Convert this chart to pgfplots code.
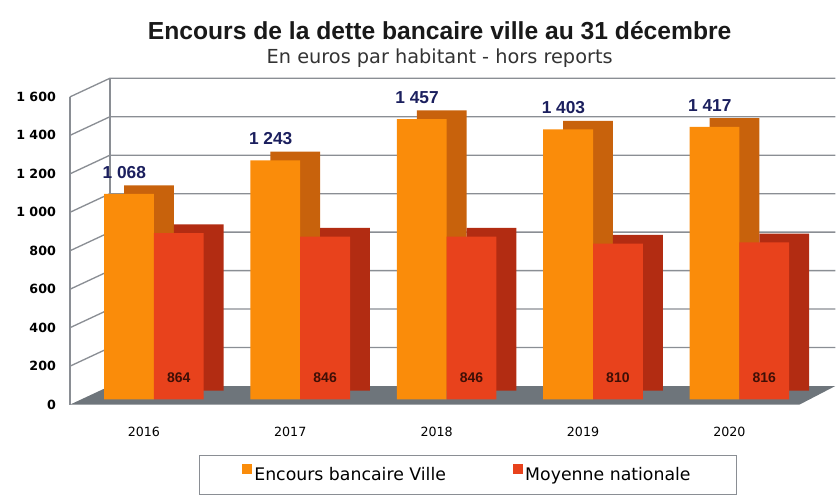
\documentclass[border=0pt]{standalone}
\usepackage{pgfplots}
\pgfplotsset{compat=1.18}
\usepackage{fontspec}
\setmainfont{DejaVu Sans}
\newfontfamily\lib{Liberation Sans}
\definecolor{orF}{HTML}{FA8C0A}
\definecolor{orS}{HTML}{C8620C}
\definecolor{rdF}{HTML}{E8421C}
\definecolor{rdS}{HTML}{B22C12}
\definecolor{navy}{HTML}{1B1F5E}
\definecolor{floor}{HTML}{6E757B}
\definecolor{gridc}{HTML}{8A8E94}
\begin{document}
\begin{tikzpicture}
\begin{axis}[
  width=547.5pt, height=231pt, scale only axis,
  xmin=-0.505, xmax=4.478, ymin=0, ymax=1600,
  clip=false,
  axis line style={draw=none},
  major tick style={draw=none},
  xtick={0,1,2,3,4},
  xticklabels={2016,2017,2018,2019,2020},
  xticklabel style={font=\fontsize{9.5}{10}\selectfont, yshift=-9pt},
  ytick={0,200,400,600,800,1000,1200,1400,1600},
  yticklabels={0,200,400,600,800,1 000,1 200,1 400,1 600},
  yticklabel style={font=\fontsize{9.5}{10}\selectfont\bfseries, xshift=-7pt},
  ybar, bar width=0.34,
  legend style={at={(0.545,0)}, yshift=-37.5pt, anchor=north, draw=gridc,
    legend columns=2, font=\fontsize{13}{14}\selectfont,
    inner xsep=32pt, inner ysep=7pt,
    /tikz/every even column/.append style={column sep=48pt}},
  legend image code/.code={\fill[#1] (0pt,-3.8pt) rectangle (7.5pt,3.8pt);},
]
% floor and walls
\fill[floor] (axis cs:-0.505,0) -- (axis cs:4.478,0) -- ([xshift=27pt,yshift=14pt]axis cs:4.478,0) -- ([xshift=30pt,yshift=14pt]axis cs:-0.505,0) -- cycle;
\pgfplotsinvokeforeach{200,400,600,800,1000,1200,1400,1600}{
  \draw[gridc, line width=1pt] (axis cs:-0.505,#1) -- ([xshift=30pt,yshift=14pt]axis cs:-0.505,#1) -- ([xshift=27pt,yshift=14pt]axis cs:4.478,#1);
}
\draw[gridc, line width=1pt] (axis cs:-0.505,0) -- (axis cs:-0.505,1600);
\draw[gridc, line width=1pt] ([xshift=30pt,yshift=14pt]axis cs:-0.505,0) -- ([xshift=30pt,yshift=14pt]axis cs:-0.505,1600);

% orange series
\addplot[fill=orS, draw=none, bar shift=-0.17, xshift=22.5pt, yshift=10.5pt, forget plot]
  coordinates {(0,1068) (1,1243) (2,1457) (3,1403) (4,1417)};
\addplot[fill=orF, draw=none, bar shift=-0.17, xshift=7.5pt, yshift=4pt]
  coordinates {(0,1068) (1,1243) (2,1457) (3,1403) (4,1417)};
\addlegendentry{Encours bancaire Ville}
% red series
\addplot[fill=rdS, draw=none, bar shift=0.17, xshift=22.5pt, yshift=10.5pt, forget plot]
  coordinates {(0,864) (1,846) (2,846) (3,810) (4,816)};
\addplot[fill=rdF, draw=none, bar shift=0.17, xshift=7.5pt, yshift=4pt]
  coordinates {(0,864) (1,846) (2,846) (3,810) (4,816)};
\addlegendentry{Moyenne nationale}

% value labels
\foreach \x/\v/\t in {0/1068/1 068,1/1243/1 243,2/1457/1 457,3/1403/1 403,4/1417/1 417}{
  \edef\tmp{\noexpand\node[anchor=south, text=navy, font=\noexpand\lib\noexpand\fontsize{13}{14}\noexpand\selectfont\noexpand\bfseries, yshift=12pt, xshift=4pt] at (axis cs:\x-0.17,\v) {\t};}
  \tmp
}
\foreach \x/\t in {0/864,1/846,2/846,3/810,4/816}{
  \edef\tmp{\noexpand\node[text=black!65!rdS, font=\noexpand\lib\noexpand\fontsize{10.5}{11}\noexpand\selectfont\noexpand\bfseries, xshift=7.5pt] at (axis cs:\x+0.17,140) {\t};}
  \tmp
}
% titles
\node[font=\lib\fontsize{18.5}{20}\selectfont\bfseries, text=black!90] at ([xshift=277.5pt,yshift=281pt]axis cs:-0.505,0) {Encours de la dette bancaire ville au 31 décembre};
\node[font=\fontsize{14.5}{16}\selectfont, text=black!80] at ([xshift=277.5pt,yshift=260pt]axis cs:-0.505,0) {En euros par habitant - hors reports};
\coordinate (O) at (axis cs:-0.505,0);
\end{axis}
\path (O) ++(-52.5pt,-66pt) rectangle ++(627pt,369.75pt);
\end{tikzpicture}
\end{document}
